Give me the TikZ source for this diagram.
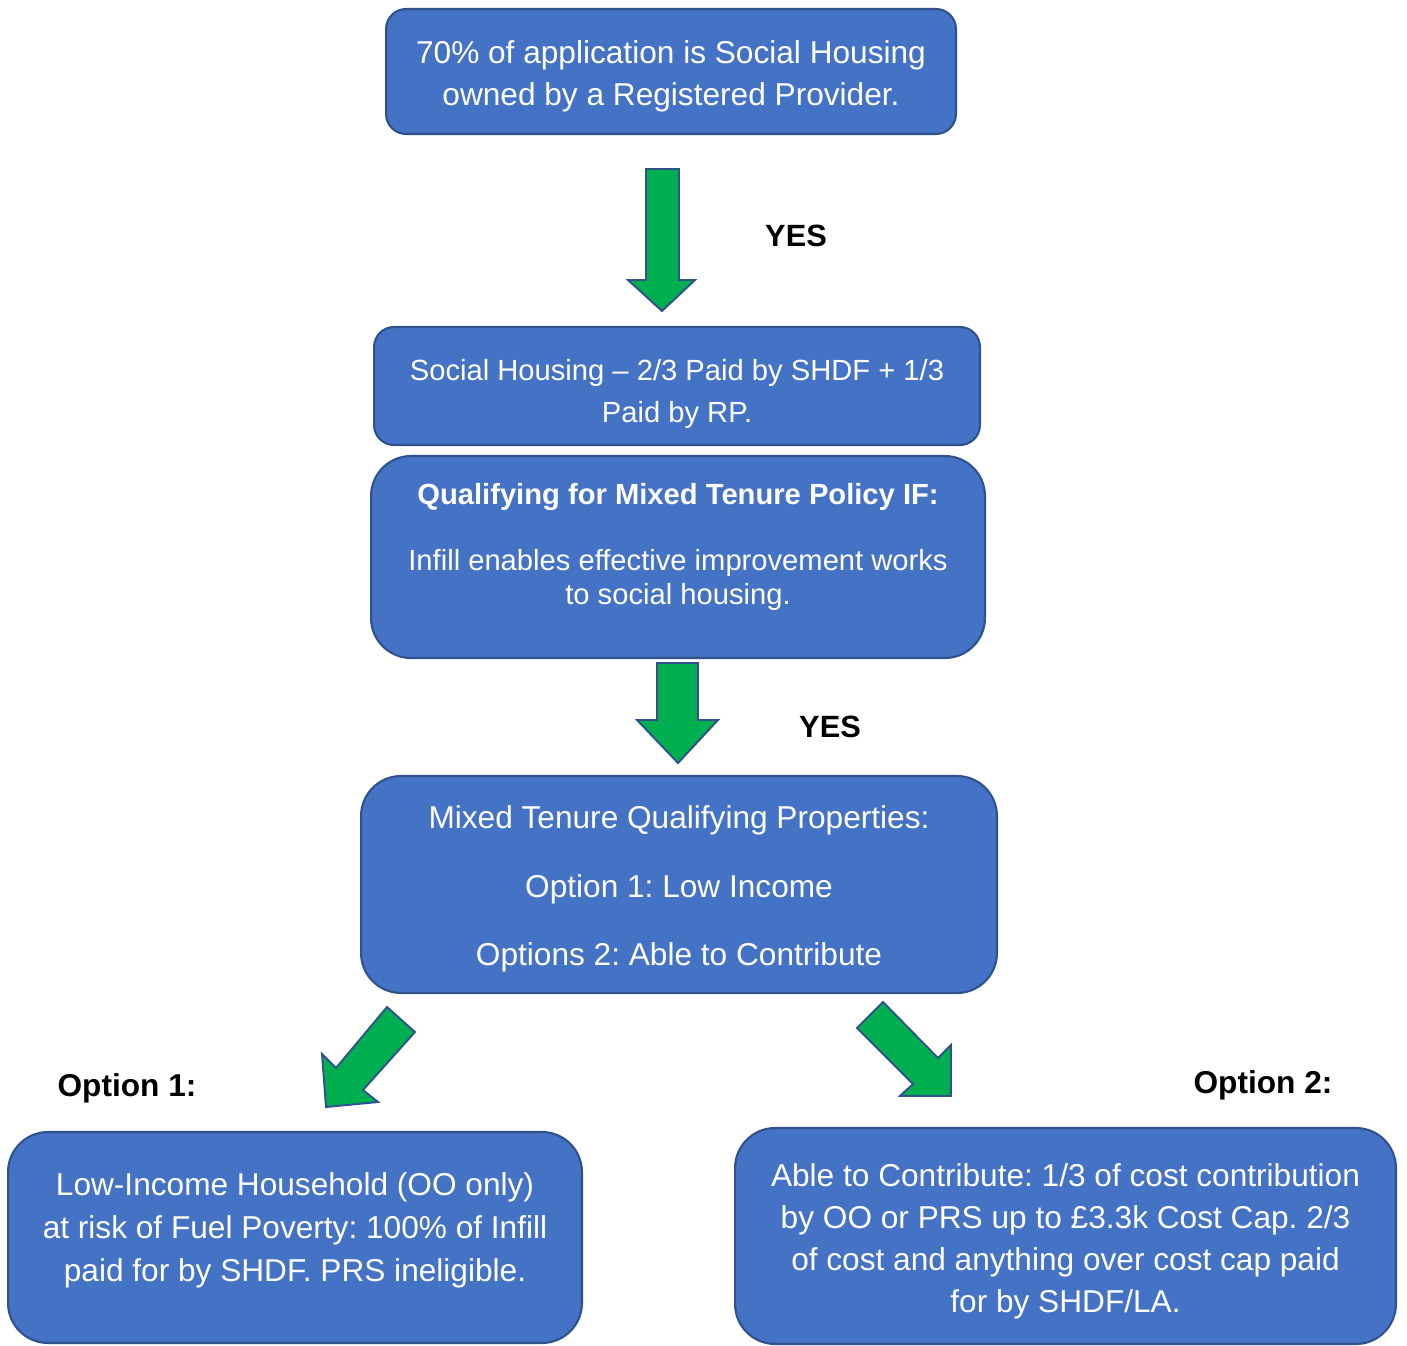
\documentclass[tikz,border=0pt]{standalone}
\usepackage{fontspec}
\setmainfont{Liberation Sans}
\frenchspacing
\definecolor{boxfill}{HTML}{4472C4}
\definecolor{boxline}{HTML}{2F528F}
\definecolor{arrowgreen}{HTML}{00B050}
\begin{document}
\begin{tikzpicture}[x=0.02cm,y=-0.02cm,
  box/.style={draw=boxline, fill=boxfill, line width=1.2pt, inner sep=0pt},
  smallr/.style={rounded corners=0.4cm},
  bigr/.style={rounded corners=0.8cm},
  txt/.style={text=white, align=center, inner sep=0pt},
  lbl/.style={text=black, font=\bfseries\fontsize{17.5}{21}\selectfont, inner sep=0pt},
  blockarrow/.style={draw=boxline, fill=arrowgreen, line width=1.1pt, line join=miter}]
\useasboundingbox (0,0) rectangle (1407,1346);

% boxes
\node[box, smallr, minimum width=11.4cm, minimum height=2.5cm] (b1) at (671,71.5) {};
\node[txt, font=\fontsize{18}{23.8}\selectfont] (t1) at (671,76)
  {70\% of application is Social Housing\\owned by a Registered Provider.};

\node[box, smallr, minimum width=12.12cm, minimum height=2.36cm] (b2) at (677,386) {};
\node[txt, font=\fontsize{16.6}{23.8}\selectfont] (t2) at (677,394)
  {Social Housing – 2/3 Paid by SHDF + 1/3\\Paid by RP.};

\node[box, bigr, minimum width=12.28cm, minimum height=4.04cm] (b3) at (678,557) {};
\node[txt, font=\bfseries\fontsize{16.6}{19.3}\selectfont] (t3a) at (678,497)
  {Qualifying for Mixed Tenure Policy IF:};
\node[txt, font=\fontsize{16.6}{19.3}\selectfont] (t3b) at (678,580)
  {Infill enables effective improvement works\\to social housing.};

\node[box, bigr, minimum width=12.72cm, minimum height=4.34cm] (b4) at (679,884.5) {};
\node[txt, font=\fontsize{18}{39.1}\selectfont] (t4) at (679,889)
  {Mixed Tenure Qualifying Properties:\\Option 1: Low Income\\Options 2: Able to Contribute};

\node[box, bigr, minimum width=11.48cm, minimum height=4.22cm] (b5) at (295,1237.5) {};
\node[txt, font=\fontsize{18}{24.4}\selectfont] (t5) at (295,1230)
  {Low-Income Household (OO only)\\at risk of Fuel Poverty: 100\% of Infill\\paid for by SHDF. PRS ineligible.};

\node[box, bigr, minimum width=13.22cm, minimum height=4.32cm] (b6) at (1065.5,1236) {};
\node[txt, font=\fontsize{18}{24}\selectfont] (t6) at (1065.5,1241.5)
  {Able to Contribute: 1/3 of cost contribution\\by OO or PRS up to £3.3k Cost Cap. 2/3\\of cost and anything over cost cap paid\\for by SHDF/LA.};

% block arrows
\draw[blockarrow] (646,169) -- (679,169) -- (679,280) -- (695,280) -- (662,311)
  -- (628,280) -- (646,280) -- cycle;
\draw[blockarrow] (657,663) -- (698,663) -- (698,720) -- (718,720) -- (678,763)
  -- (637,720) -- (657,720) -- cycle;
\draw[blockarrow] (387,1007) -- (415,1032) -- (363,1090) -- (378,1102) -- (326,1107)
  -- (322,1054) -- (336,1068) -- cycle;
\draw[blockarrow] (857,1028) -- (883,1002) -- (938,1058) -- (951,1045) -- (951,1096)
  -- (900,1096) -- (913,1084) -- cycle;

% labels
\node[lbl] (yes1) at (796,236) {YES};
\node[lbl] (yes2) at (830,727) {YES};
\node[lbl, font=\bfseries\fontsize{18}{21}\selectfont] (opt1) at (127,1088) {Option 1:};
\node[lbl, font=\bfseries\fontsize{18}{21}\selectfont] (opt2) at (1263,1085) {Option 2:};
\end{tikzpicture}
\end{document}
